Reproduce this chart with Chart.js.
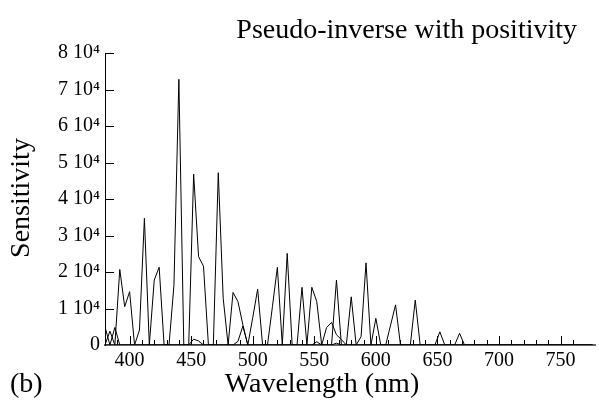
<!DOCTYPE html>
<html>
<head>
<meta charset="utf-8">
<script src="https://cdn.jsdelivr.net/npm/chart.js@4.4.0/dist/chart.umd.min.js"></script>
<style>
  html, body { margin: 0; padding: 0; background: #fff; }
  #wrap { width: 599px; height: 400px; }
</style>
</head>
<body>
<div id="wrap"><canvas id="sensChart"></canvas></div>
<script>
// wavelength samples (nm)
const wavelengths = [
  380, 384, 388, 392, 396, 400, 404, 408, 412, 416, 420, 424, 428, 432, 436, 440, 444, 448, 452, 456,
  460, 464, 468, 472, 476, 480, 484, 488, 492, 496, 500, 504, 508, 512, 516, 520, 524, 528, 532, 536,
  540, 544, 548, 552, 556, 560, 564, 568, 572, 576, 580, 584, 588, 592, 596, 600, 604, 608, 612, 616,
  620, 624, 628, 632, 636, 640, 644, 648, 652, 656, 660, 664, 668, 672, 676, 680, 684, 688, 692, 696,
  700, 704, 708, 712, 716, 720, 724, 728, 732, 736, 740, 744, 748, 752, 756, 760, 764, 768, 772, 776
];

// main reconstructed sensitivity
const mainSens = [
  0, 0, 0, 20700, 10500, 14600, 0, 4100, 34700, 0, 17800, 21300, 0, 0, 16400, 72800, 0, 0, 46800, 24200,
  21600, 0, 0, 47200, 12800, 0, 14400, 11900, 5500, 0, 7500, 15300, 0, 0, 10500, 21300, 0, 25100, 0, 0,
  15800, 0, 15800, 11900, 0, 0, 0, 17800, 0, 0, 13200, 0, 2300, 22500, 0, 7300, 0, 0, 5500, 11000,
  0, 0, 0, 12300, 0, 0, 0, 0, 3600, 0, 0, 0, 3200, 0, 0, 0, 0, 0, 0, 0,
  0, 0, 0, 0, 0, 0, 0, 0, 0, 0, 0, 0, 0, 0, 0, 0, 0, 0, 0, 0
];

// smaller channels near the baseline
const lowSensA = [
  5000, 0, 4800, 0, 0, 0, 0, 0, 0, 0, 0, 0, 0, 0, 0, 0, 0, 0, 1600, 1100,
  0, 0, 0, 0, 0, 0, 0, 1000, 5200, 0, 0, 0, 0, 0, 0, 0, 0, 0, 0, 0,
  0, 0, 0, 900, 0, 4800, 6200, 2800, 1500, 0, 0, 0, 0, 0, 0, 0, 0, 0, 0, 0,
  0, 0, 0, 0, 0, 0, 0, 0, 0, 0, 0, 0, 0, 0, 0, 0, 0, 0, 0, 0,
  0, 0, 0, 0, 0, 0, 0, 0, 0, 0, 0, 0, 0, 0, 0, 0, 0, 0, 0, 0
];
const lowSensB = [
  0, 3800, 0, 0, 0, 0, 0, 0, 0, 0, 0, 0, 0, 0, 0, 0, 0, 0, 0, 0,
  0, 0, 0, 0, 0, 0, 0, 0, 0, 0, 0, 0, 0, 0, 0, 0, 0, 0, 0, 0,
  0, 0, 0, 0, 0, 0, 0, 500, 0, 0, 0, 0, 0, 0, 0, 0, 0, 0, 0, 0,
  0, 0, 0, 0, 0, 0, 0, 0, 0, 0, 0, 0, 0, 0, 0, 0, 0, 0, 0, 0,
  0, 0, 0, 0, 0, 0, 0, 0, 0, 0, 0, 0, 0, 0, 0, 0, 0, 0, 0, 0
];

const yTickValues = [0, 10000, 20000, 30000, 40000, 50000, 60000, 70000, 80000];

const titleText = "Pseudo-inverse with positivity";
const xTitle = "Wavelength (nm)";
const yTitle = "Sensitivity";
const panelTag = "(b)";

const serif = "'Liberation Serif', 'DejaVu Serif', serif";

function toPoints(vals) {
    return wavelengths.map((w, i) => ({ x: w, y: vals[i] }));
}

function lineSet(label, vals) {
    return {
        label: label,
        data: toPoints(vals),
        borderColor: "#000",
        borderWidth: 1,
        pointRadius: 0,
        tension: 0,
        fill: false
    };
}

// ticks drawn inward + free text
const frameDecor = {
    id: "frameDecor",
    afterDraw(chart) {
        const { ctx, chartArea: a, scales: { x, y } } = chart;
        ctx.save();
        ctx.strokeStyle = "#000";
        ctx.lineWidth = 1;
        x.ticks.forEach(t => {
            if (t.value % 10 !== 0 || t.value <= x.min) return;
            const px = Math.round(x.getPixelForValue(t.value)) + 0.5;
            const len = t.value % 50 === 0 ? 9 : 5;
            ctx.beginPath();
            ctx.moveTo(px, a.bottom);
            ctx.lineTo(px, a.bottom - len);
            ctx.stroke();
        });
        y.ticks.forEach(t => {
            if (t.value <= 0) return;
            const py = Math.round(y.getPixelForValue(t.value)) + 0.5;
            ctx.beginPath();
            ctx.moveTo(a.left, py);
            ctx.lineTo(a.left + 9, py);
            ctx.stroke();
        });

        ctx.fillStyle = "#000";
        ctx.textBaseline = "middle";
        ctx.font = "28px " + serif;
        ctx.textAlign = "right";
        ctx.fillText(titleText, 577, 31);
        ctx.textAlign = "center";
        ctx.fillText(xTitle, 322, 385);
        ctx.textAlign = "left";
        ctx.fillText(panelTag, 10, 385);

        ctx.translate(22, 198);
        ctx.rotate(-Math.PI / 2);
        ctx.textAlign = "center";
        ctx.fillText(yTitle, 0, 0);
        ctx.restore();
    }
};

new Chart(document.getElementById("sensChart"), {
    type: "line",
    data: {
        datasets: [
            lineSet("main", mainSens),
            lineSet("lowA", lowSensA),
            lineSet("lowB", lowSensB)
        ]
    },
    options: {
        responsive: true,
        maintainAspectRatio: false,
        animation: false,
        layout: { padding: { top: 53, right: 0, left: 0, bottom: 0 } },
        plugins: {
            legend: { display: false },
            tooltip: { enabled: false }
        },
        scales: {
            x: {
                type: "linear",
                min: 380,
                max: 778,
                afterFit: s => { s.height = 55; },
                grid: { display: false, drawTicks: false },
                border: { display: true, color: "#666", width: 2 },
                ticks: {
                    stepSize: 10,
                    autoSkip: false,
                    maxRotation: 0,
                    padding: 4,
                    color: "#000",
                    font: { family: serif, size: 20 },
                    callback: v => (v % 50 === 0 && v >= 400 ? String(v) : "")
                }
            },
            y: {
                min: 0,
                max: 80000,
                afterFit: s => { s.width = 105; },
                afterBuildTicks: s => { s.ticks = yTickValues.map(v => ({ value: v })); },
                grid: { display: false, drawTicks: false },
                border: { display: true, color: "#000", width: 1 },
                ticks: {
                    padding: 5,
                    color: "#000",
                    font: { family: serif, size: 20 },
                    callback: v => (v === 0 ? "0" : (v / 10000) + " 10\u2074")
                }
            }
        }
    },
    plugins: [frameDecor]
});
</script>
</body>
</html>
